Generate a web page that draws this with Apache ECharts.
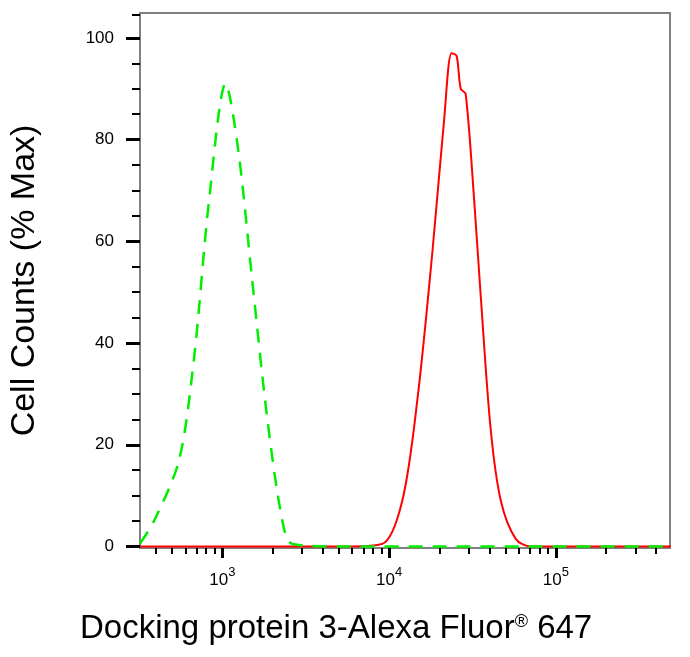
<!DOCTYPE html>
<html><head><meta charset="utf-8">
<script src="https://cdn.jsdelivr.net/npm/echarts@6/dist/echarts.min.js"></script>
<style>html,body{margin:0;background:#fff}#c{width:690px;height:657px}</style>
</head><body><div id="c"></div>
<script>
// x in fluorescence intensity, y in % Max
const greenX = [321, 389, 550, 676, 832, 1047, 1245, 1514, 1862, 2291, 2630, 5000, 20000, 100000, 500000];
const greenY = [0.6, 5, 17, 37, 68, 91, 78, 52, 25, 5, 0.5, 0, 0, 0, 0];
const redX = [321, 3000, 5600, 9100, 12000, 14800, 18200, 21400, 23700, 25400, 26900, 28800, 32400, 35500, 40700, 46800, 57500, 70800, 500000];
const redY = [0, 0, 0, 0.5, 9, 29, 58, 84, 97, 96.5, 90, 89, 68, 49, 23, 9, 1.5, 0, 0];
const majorExps = [3, 4, 5];
const yTicks = [0, 20, 40, 60, 80, 100];

const lg = Math.log10;
const xmin = 2.506, xmax = 5.685, ymin = -0.3, ymax = 104.9;
const minor = [];
for (let e = 2; e <= 6; e++) for (let k = 2; k <= 9; k++) { const v = lg(k * Math.pow(10, e)); if (v > xmin && v < xmax) minor.push(v); }
const chart = echarts.init(document.getElementById('c'));
const frame = {lineStyle: {color: '#808080', width: 2}, onZero: false};
chart.setOption({
  animation: false,
  grid: {left: 136, right: 20, top: 13, bottom: 109},
  xAxis: [
    {type: 'value', min: xmin, max: xmax, position: 'bottom',
     axisLine: frame,
     axisTick: {customValues: majorExps, length: 10, lineStyle: {color: '#000', width: 3}},
     axisLabel: {customValues: majorExps, margin: 14, formatter: v => '{b|10}{s|' + v + '}',
       rich: {b: {fontSize: 17, fontFamily: 'Liberation Sans', color: '#000', padding: [10, 0, 0, 0]},
              s: {fontSize: 13, fontFamily: 'Liberation Sans', color: '#000', padding: [0, 0, 6, 0]}}},
     splitLine: {show: false}},
    {type: 'value', min: xmin, max: xmax, position: 'bottom',
     axisLine: {show: false, onZero: false},
     axisTick: {customValues: minor, length: 6, lineStyle: {color: '#000', width: 2}},
     axisLabel: {show: false}, splitLine: {show: false}},
    {type: 'value', min: xmin, max: xmax, position: 'top',
     axisLine: frame, axisTick: {show: false}, axisLabel: {show: false}, splitLine: {show: false}}
  ],
  yAxis: [
    {type: 'value', min: ymin, max: ymax, position: 'left',
     axisLine: {show: true, lineStyle: {color: '#808080', width: 2}, onZero: false},
     axisTick: {customValues: yTicks, length: 14, lineStyle: {color: '#000', width: 3}},
     axisLabel: {customValues: yTicks, margin: 26, fontSize: 17, fontFamily: 'Liberation Sans', color: '#000'},
     splitLine: {show: false},
     name: 'Cell Counts (% Max)', nameLocation: 'middle', nameGap: 98,
     nameTextStyle: {fontSize: 34, fontFamily: 'Liberation Sans', color: '#000'}},
    {type: 'value', min: ymin, max: ymax, position: 'left',
     axisLine: {show: false, onZero: false},
     axisTick: {customValues: [5, 10, 15, 25, 30, 35, 45, 50, 55, 65, 70, 75, 85, 90, 95, 104.5], length: 8, lineStyle: {color: '#000', width: 2}},
     axisLabel: {show: false}, splitLine: {show: false}},
    {type: 'value', min: ymin, max: ymax, position: 'right',
     axisLine: {show: true, lineStyle: {color: '#808080', width: 2}, onZero: false}, axisTick: {show: false}, axisLabel: {show: false}, splitLine: {show: false}}
  ],
  graphic: [{type: 'text', left: 80, top: 612,
    style: {text: 'Docking protein 3-Alexa Fluor{r|®} 647', fontSize: 33, fontFamily: 'Liberation Sans', fill: '#000',
      rich: {r: {fontSize: 18, fontFamily: 'Liberation Sans', fill: '#000', padding: [0, 0, 12, 0]}}}}],
  series: [
    {type: 'line', smooth: 0.3, symbol: 'none', data: redX.map((x, i) => [lg(x), redY[i]]),
     lineStyle: {color: '#ff0000', width: 2}, z: 3},
    {type: 'line', smooth: 0.3, symbol: 'none', data: greenX.map((x, i) => [lg(x), greenY[i]]),
     lineStyle: {color: '#00ee00', width: 2.5, type: [14, 10]}, z: 4}
  ]
});
</script></body></html>
